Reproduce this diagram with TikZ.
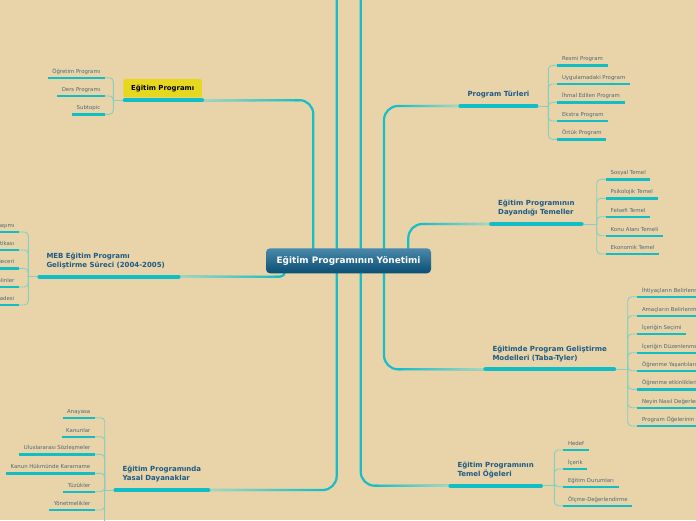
\documentclass[tikz,border=0pt]{standalone}
\usepackage{fontspec}
\setmainfont{DejaVu Sans}
\usetikzlibrary{calc}
\definecolor{bg}{HTML}{E8D4A8}
\definecolor{lineteal}{HTML}{17BEC8}
\definecolor{linepale}{HTML}{A8D8C0}
\definecolor{brk}{HTML}{86CFC0}
\definecolor{ul}{HTML}{12BEC6}
\definecolor{tblue}{HTML}{1D5A86}
\definecolor{stext}{HTML}{506877}
\definecolor{ylw}{HTML}{E6D81E}
\definecolor{cntop}{HTML}{4A89AB}
\definecolor{cnbot}{HTML}{0B4E74}
\pgfdeclarelayer{back}
\pgfdeclarelayer{lines}
\pgfsetlayers{back,lines,main}
\tikzset{
 sub/.style={font=\fontsize{5.4}{6.5}\selectfont, text=stext, inner xsep=4.5pt, inner ysep=3.5pt, text depth=1pt, text height=4pt},
 subR/.style={sub, anchor=south west},
 subL/.style={sub, anchor=south east},
 ttl/.style={font=\bfseries\fontsize{7}{9}\selectfont, text=tblue, inner xsep=9pt, inner ysep=6.3pt, align=left, execute at end node=\strut, anchor=south west},
 root/.style={rounded corners=4pt, top color=cntop, bottom color=cnbot, minimum width=165pt, minimum height=25pt, inner sep=0pt, text=white, font=\bfseries\fontsize{8.9}{10}\selectfont},
 ybox/.style={fill=ylw, rounded corners=1.5pt, minimum width=78.5pt, minimum height=18.5pt, inner sep=0pt, text=black, font=\bfseries\fontsize{6.9}{8}\selectfont},
 uline/.style={draw=ul, line width=2.4pt},
 tline/.style={draw=ul, line width=4pt, line cap=round, shorten <=2pt, shorten >=2pt},
 brkline/.style={draw=brk, line width=0.9pt, rounded corners=4pt},
 mainline/.style={draw=lineteal, line width=2.2pt, rounded corners=14pt},
}
\newcommand\fadeh[3]{%
  \coordinate (fs) at ($(#1 |- #2)+(#3,0)$);
  \foreach \i in {0,...,19}{%
    \pgfmathtruncatemacro\pc{100-5*\i}%
    \draw[line width=2.2pt, line cap=round, draw=lineteal!\pc!linepale] ($(fs)!\i/20!(#2)$) -- ($(fs)!\i/20+0.05!(#2)$);
  }%
}
\begin{document}
\begin{tikzpicture}[x=1pt,y=-1pt]
\begin{pgfonlayer}{back}
\fill[bg] (0,0) rectangle (696,520);
\end{pgfonlayer}
\useasboundingbox (0,0) rectangle (696,520);

% central node
\node[root] (c) at (348.5,260.8) {Eğitim Programının Yönetimi};

% Eğitim Programı
\node[ybox] (ep) at (162.7,88.2) {Eğitim Programı};
\coordinate (epu-w) at ($(ep.south west)+(-0.5,2.5)$);
\coordinate (epu-e) at ($(ep.south east)+(2,2.5)$);
\node[subL] (ep1) at (105,77.7) {Öğretim Programı};
\node[subL] (ep2) at (105,96) {Ders Programı};
\node[subL] (ep3) at (105,114.3) {Subtopic};

% MEB
\node[ttl, text width=125pt] (meb) at (37.3,276.7) {MEB Eğitim Programı\\Geliştirme Süreci (2004-2005)};
\node[subL] (meb1) at (19,232) {Programın Yaklaşımı};
\node[subL] (meb2) at (19,250) {Eğitim Politikası};
\node[subL] (meb3) at (19,268.5) {Temel Beceri};
\node[subL] (meb4) at (19,287) {Ara Disiplinler};
\node[subL] (meb5) at (19,305) {Vizyon İfadesi};

% Yasal Dayanaklar
\node[ttl] (ys) at (113.3,490) {Eğitim Programında\\Yasal Dayanaklar};
\node[subL] (ys1) at (95,417.7) {Anayasa};
\node[subL] (ys2) at (95,436.7) {Kanunlar};
\node[subL] (ys3) at (95,454.3) {Uluslararası Sözleşmeler};
\node[subL] (ys4) at (95,473.3) {Kanun Hükmünde Kararname};
\node[subL] (ys5) at (95,491.7) {Tüzükler};
\node[subL] (ys6) at (95,510) {Yönetmelikler};

% Program Türleri
\node[ttl] (pt) at (458.3,106) {Program Türleri};
\node[subR] (pt1) at (557.3,65.3) {Resmi Program};
\node[subR] (pt2) at (557.3,84) {Uygulamadaki Program};
\node[subR] (pt3) at (557.3,102.3) {İhmal Edilen Program};
\node[subR] (pt4) at (557.3,121) {Ekstra Program};
\node[subR] (pt5) at (557.3,139.3) {Örtük Program};

% Dayandığı Temeller
\node[ttl] (dt) at (489,224) {Eğitim Programının\\Dayandığı Temeller};
\node[subR] (dt1) at (606,179.3) {Sosyal Temel};
\node[subR] (dt2) at (606,198.3) {Psikolojik Temel};
\node[subR] (dt3) at (606,216.7) {Felsefi Temel};
\node[subR] (dt4) at (606,235.7) {Konu Alanı Temeli};
\node[subR] (dt5) at (606,254) {Ekonomik Temel};

% Taba-Tyler
\node[ttl] (tb) at (483.3,369.3) {Eğitimde Program Geliştirme\\Modelleri (Taba-Tyler)};
\node[subR] (tb1) at (637.3,296.7) {İhtiyaçların Belirlenmesi};
\node[subR] (tb2) at (637.3,315.7) {Amaçların Belirlenmesi};
\node[subR] (tb3) at (637.3,334) {İçeriğin Seçimi};
\node[subR] (tb4) at (637.3,352.7) {İçeriğin Düzenlenmesi};
\node[subR] (tb5) at (637.3,370.7) {Öğrenme Yaşantılarının Seçimi};
\node[subR] (tb6) at (637.3,389.3) {Öğrenme etkinliklerinin Düzenlenmesi};
\node[subR] (tb7) at (637.3,407.7) {Neyin Nasıl Değerlendirileceği};
\node[subR] (tb8) at (637.3,426) {Program Öğelerinin Tutarlılığı};

% Temel Öğeler
\node[ttl] (tog) at (448.3,485.7) {Eğitim Programının\\Temel Öğeleri};
\node[subR] (tog1) at (563.3,450) {Hedef};
\node[subR] (tog2) at (563.3,469) {İçerik};
\node[subR] (tog3) at (563.3,486.7) {Eğitim Durumları};
\node[subR] (tog4) at (563.3,505.7) {Ölçme-Değerlendirme};

% coordinates for routing
\coordinate (xA) at (313.3,0);
\coordinate (xD) at (384,0);
\coordinate (xE) at (408.3,0);
\coordinate (xM) at (285,0);
\coordinate (topB) at (336.7,-3);
\coordinate (topC) at (360.7,-3);
\coordinate (epj) at (113.3,0);
\coordinate (mebj) at (28.3,0);
\coordinate (ysj) at (104.7,0);
\coordinate (ptj) at (548.3,0);
\coordinate (dtj) at (596.7,0);
\coordinate (tbj) at (627.7,0);
\coordinate (togj) at (554.3,0);
\coordinate (bottom) at (0,530);

\begin{pgfonlayer}{lines}
% main connectors
\draw[mainline] (c.center -| xA) |- (epu-e);
\draw[mainline] (c.center -| xD) |- (pt.south west);
\draw[mainline] (c.center -| xD) |- (tb.south west);
\draw[mainline] (c.center -| xE) |- (dt.south west);
\draw[mainline] (topB) |- (ys.south east);
\draw[mainline] (topC) |- (tog.south west);
\draw[mainline, rounded corners=5pt] (c.center -| xM) |- (meb.south east);
\fadeh{xA}{epu-e}{-14}
\fadeh{xD}{pt.south west}{14}
\fadeh{xD}{tb.south west}{14}
\fadeh{xE}{dt.south west}{14}
\fadeh{topB}{ys.south east}{-14}
\fadeh{topC}{tog.south west}{14}
\fadeh{xM}{meb.south east}{-5}

% brackets
\draw[brkline] (epu-w) -- (epj |- epu-w);
\foreach \k in {1,2,3} \draw[brkline] (epj |- epu-w) |- (ep\k.south east);
\draw[brkline] (meb.south west) -- (mebj |- meb.south west);
\foreach \k in {1,...,5} \draw[brkline] (mebj |- meb.south west) |- (meb\k.south east);
\draw[brkline] (ys.south west) -- (ysj |- ys.south west);
\foreach \k in {1,...,6} \draw[brkline] (ysj |- ys.south west) |- (ys\k.south east);
\draw[brkline] (ysj |- ys.south west) -- (ysj |- bottom);
\draw[brkline] (pt.south east) -- (ptj |- pt.south east);
\foreach \k in {1,...,5} \draw[brkline] (ptj |- pt.south east) |- (pt\k.south west);
\draw[brkline] (dt.south east) -- (dtj |- dt.south east);
\foreach \k in {1,...,5} \draw[brkline] (dtj |- dt.south east) |- (dt\k.south west);
\draw[brkline] (tb.south east) -- (tbj |- tb.south east);
\foreach \k in {1,...,8} \draw[brkline] (tbj |- tb.south east) |- (tb\k.south west);
\draw[brkline] (tog.south east) -- (togj |- tog.south east);
\foreach \k in {1,...,4} \draw[brkline] (togj |- tog.south east) |- (tog\k.south west);

% underlines
\draw[tline] (epu-w) -- (epu-e);
\foreach \n in {meb,ys,pt,dt,tb,tog} \draw[tline] (\n.south west) -- (\n.south east);
\foreach \k in {1,2,3} \draw[uline] (ep\k.south west) -- (ep\k.south east);
\foreach \k in {1,...,5} \draw[uline] (meb\k.south west) -- (meb\k.south east);
\foreach \k in {1,...,6} \draw[uline] (ys\k.south west) -- (ys\k.south east);
\foreach \k in {1,...,5} \draw[uline] (pt\k.south west) -- (pt\k.south east);
\foreach \k in {1,...,5} \draw[uline] (dt\k.south west) -- (dt\k.south east);
\foreach \k in {1,...,8} \draw[uline] (tb\k.south west) -- (tb\k.south east);
\foreach \k in {1,...,4} \draw[uline] (tog\k.south west) -- (tog\k.south east);
\end{pgfonlayer}
\end{tikzpicture}
\end{document}
